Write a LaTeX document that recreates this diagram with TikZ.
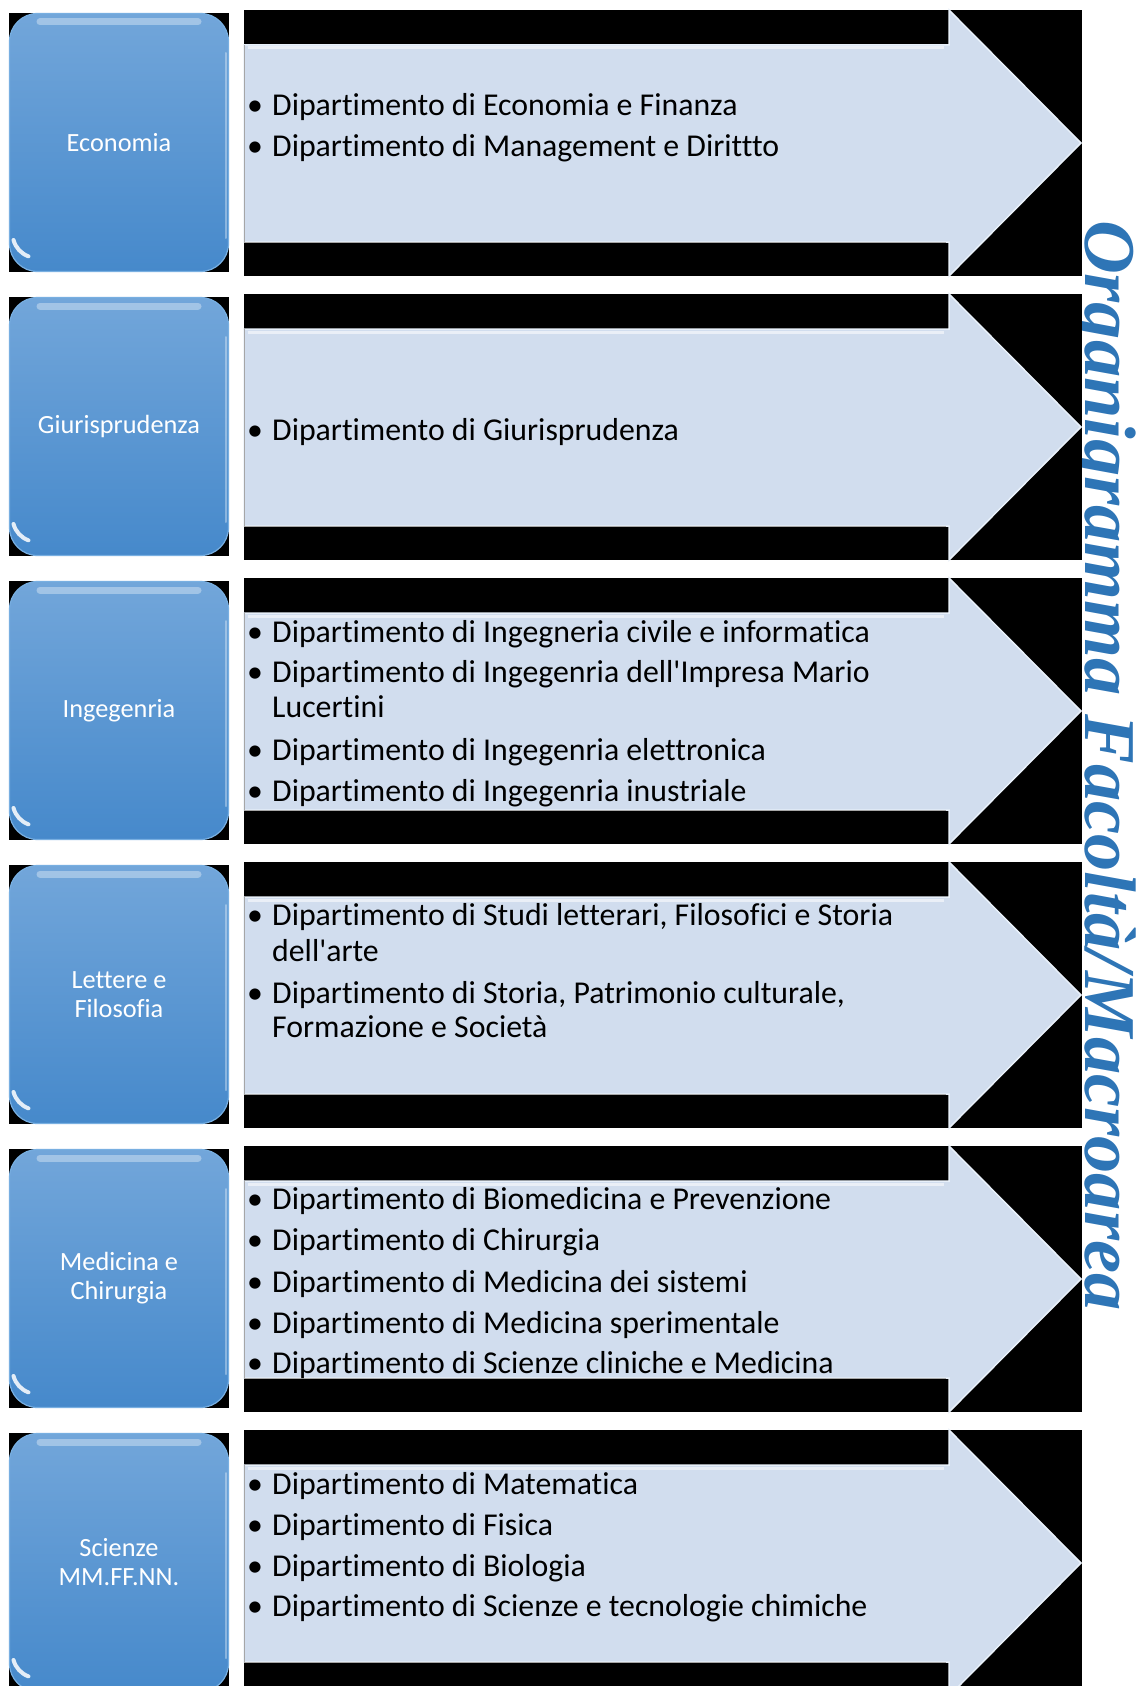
\documentclass[tikz,border=0pt]{standalone}
\usepackage{fontspec}
\setmainfont{Carlito}[Ligatures={NoCommon}]
\newfontfamily\titlefont{Liberation Serif}
\definecolor{arrowfill}{RGB}{209,221,238}
\definecolor{arrowedge}{RGB}{232,240,250}
\definecolor{boxtop}{RGB}{114,166,218}
\definecolor{boxbot}{RGB}{70,137,203}
\definecolor{boxedge}{RGB}{120,175,225}
\definecolor{titleblue}{RGB}{46,117,182}
\begin{document}
\begin{tikzpicture}[x=1pt,y=-1pt,
  fbox/.style={rounded corners=28pt, top color=boxtop, bottom color=boxbot,
    draw=boxedge, line width=1.2pt, minimum width=219pt, minimum height=258pt,
    text=white, font=\fontsize{26.3}{29}\selectfont, align=center, inner sep=0pt},
  lin/.style={anchor=base west, inner sep=0pt, font=\fontsize{31.8}{35}\selectfont},
  ttl/.style={anchor=base west, inner sep=0pt, rotate=-90, text=titleblue,
    font=\titlefont\bfseries\itshape\fontsize{73}{78}\selectfont}]
\useasboundingbox (0,0) rectangle (1135,1686);
\clip (0,0) rectangle (1135,1686);
\fill[white] (0,0) rectangle (1135,1686);
% title (drawn first: the black panels cover its descenders)
\begin{scope}
  \clip (1082,0) rectangle (1135,1686);
  \node[ttl] (title) at (1085,220) {\scalebox{1.02}[1]{Organigramma Facoltà/Macroarea}};
\end{scope}
% backgrounds and arrows
\foreach \i in {0,...,5}{
  \pgfmathsetmacro\T{10+284*\i}
  \pgfmathsetmacro\B{13+284*\i}
  \fill[black] (9,\B) rectangle (229,\B+259);
  \fill[black] (244,\T) rectangle (1082,\T+266);
  \fill[arrowfill, draw=arrowedge, line width=1.5pt, line join=miter]
    (244,\T+35) -- (949,\T+35) -- (949,\T) -- (1081,\T+133)
    -- (949,\T+266) -- (949,\T+232) -- (244,\T+232) -- cycle;
  \draw[white, opacity=.55, line width=3pt] (248,\T+38) -- (944,\T+38);
  \draw[gray!70, line width=1pt] (244,\T+35) -- (244,\T+232) -- (946,\T+232);
}
% faculty boxes
\node[fbox] (b1) at (119,142.5) {Economia};
\node[fbox] (b2) at (119,426.5) {Giurisprudenza};
\node[fbox] (b3) at (119,710.5) {Ingegenria};
\node[fbox] (b4) at (119,994.5) {Lettere e\\Filosofia};
\node[fbox] (b5) at (119,1278.5) {Medicina e\\Chirurgia};
\node[fbox] (b6) at (119,1562.5) {Scienze\\MM.FF.NN.};
% glossy highlights
\foreach \i in {0,...,5}{
  \pgfmathsetmacro\B{13+284*\i}
  \draw[white, opacity=.35, line width=7pt, line cap=round] (40,\B+9) -- (198,\B+9);
  \draw[white, opacity=.35, line width=2pt, line cap=round] (226,\B+40) -- (226,\B+225);
  \draw[white, opacity=.85, line width=4pt, line cap=round] (13.5,\B+227) arc (165:110:24);
}
% department lists
\node[lin] (e1) at (247,115) {\makebox[25pt][l]{•}Dipartimento di Economia e Finanza};
\node[lin] (e2) at (247,156) {\makebox[25pt][l]{•}Dipartimento di Management e Dirittto};

\node[lin] (g1) at (247,440) {\makebox[25pt][l]{•}Dipartimento di Giurisprudenza};

\node[lin] (i1) at (247,642) {\makebox[25pt][l]{•}Dipartimento di Ingegneria civile e informatica};
\node[lin] (i2) at (247,682.8) {\makebox[25pt][l]{•}Dipartimento di Ingegenria dell\textquotesingle Impresa Mario};
\node[lin] (i2b) at (272,717.2) {Lucertini};
\node[lin] (i3) at (247,760.2) {\makebox[25pt][l]{•}Dipartimento di Ingegenria elettronica};
\node[lin] (i4) at (247,801.1) {\makebox[25pt][l]{•}Dipartimento di Ingegenria inustriale};

\node[lin] (l1) at (247,925.7) {\makebox[25pt][l]{•}Dipartimento di Studi letterari, Filosofici e Storia};
\node[lin] (l1b) at (272,961.2) {dell\textquotesingle arte};
\node[lin] (l2) at (247,1003.1) {\makebox[25pt][l]{•}Dipartimento di Storia, Patrimonio culturale,};
\node[lin] (l2b) at (272,1037.5) {Formazione e Società};

\node[lin] (m1) at (247,1209.5) {\makebox[25pt][l]{•}Dipartimento di Biomedicina e Prevenzione};
\node[lin] (m2) at (247,1250.3) {\makebox[25pt][l]{•}Dipartimento di Chirurgia};
\node[lin] (m3) at (247,1292.2) {\makebox[25pt][l]{•}Dipartimento di Medicina dei sistemi};
\node[lin] (m4) at (247,1333.1) {\makebox[25pt][l]{•}Dipartimento di Medicina sperimentale};
\node[lin] (m5) at (247,1373.9) {\makebox[25pt][l]{•}Dipartimento di Scienze cliniche e Medicina};

\node[lin] (s1) at (247,1494.3) {\makebox[25pt][l]{•}Dipartimento di Matematica};
\node[lin] (s2) at (247,1535.1) {\makebox[25pt][l]{•}Dipartimento di Fisica};
\node[lin] (s3) at (247,1576) {\makebox[25pt][l]{•}Dipartimento di Biologia};
\node[lin] (s4) at (247,1616.8) {\makebox[25pt][l]{•}Dipartimento di Scienze e tecnologie chimiche};
\end{tikzpicture}
\end{document}
